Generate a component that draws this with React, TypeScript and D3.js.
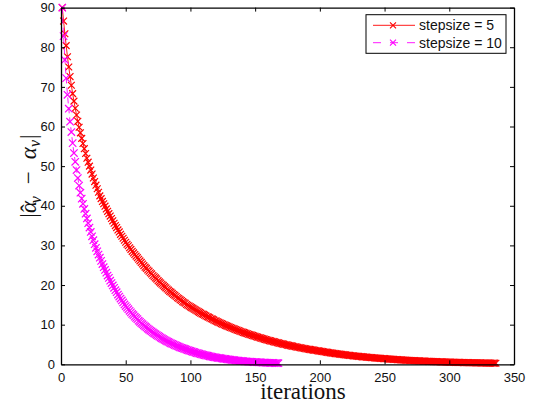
import React, { useEffect, useRef } from 'react'
import * as d3 from 'd3'

// |alpha_hat - alpha| per iteration (iteration = index + 1)
const step5 = [
  90.0, 86.6, 83.4, 80.4, 77.6, 75.0, 72.6, 70.4, 68.3, 66.4,
  64.6, 62.9, 61.3, 59.8, 58.4, 57.0, 55.7, 54.4, 53.2, 52.0,
  51.0, 50.0, 49.0, 48.0, 47.0, 46.1, 45.2, 44.3, 43.4, 42.5,
  41.8, 41.1, 40.5, 39.9, 39.2, 38.6, 38.0, 37.4, 36.8, 36.2,
  35.6, 35.0, 34.5, 33.9, 33.4, 32.8, 32.3, 31.8, 31.3, 30.8,
  30.3, 29.9, 29.4, 29.0, 28.5, 28.1, 27.7, 27.3, 26.9, 26.5,
  26.1, 25.7, 25.3, 24.9, 24.5, 24.2, 23.8, 23.5, 23.1, 22.8,
  22.4, 22.1, 21.8, 21.5, 21.1, 20.8, 20.5, 20.2, 19.9, 19.6,
  19.3, 19.0, 18.7, 18.4, 18.2, 17.9, 17.6, 17.4, 17.1, 16.8,
  16.6, 16.3, 16.1, 15.8, 15.6, 15.4, 15.1, 14.9, 14.7, 14.5,
  14.3, 14.1, 13.9, 13.7, 13.5, 13.3, 13.1, 12.9, 12.7, 12.6,
  12.4, 12.2, 12.0, 11.9, 11.7, 11.5, 11.4, 11.2, 11.0, 10.9,
  10.72, 10.57, 10.42, 10.27, 10.13, 9.98, 9.84, 9.70, 9.56, 9.42,
  9.29, 9.16, 9.02, 8.90, 8.77, 8.64, 8.52, 8.40, 8.28, 8.16,
  8.04, 7.93, 7.82, 7.70, 7.59, 7.49, 7.38, 7.28, 7.17, 7.07,
  6.96, 6.86, 6.76, 6.66, 6.56, 6.46, 6.36, 6.27, 6.17, 6.08,
  5.99, 5.90, 5.81, 5.73, 5.64, 5.56, 5.47, 5.39, 5.31, 5.23,
  5.15, 5.08, 5.00, 4.93, 4.85, 4.78, 4.71, 4.64, 4.57, 4.50,
  4.43, 4.37, 4.30, 4.24, 4.17, 4.11, 4.05, 3.99, 3.93, 3.87,
  3.81, 3.76, 3.70, 3.65, 3.59, 3.54, 3.48, 3.43, 3.38, 3.33,
  3.27, 3.22, 3.16, 3.11, 3.06, 3.01, 2.95, 2.90, 2.85, 2.81,
  2.76, 2.71, 2.67, 2.62, 2.58, 2.53, 2.49, 2.45, 2.40, 2.36,
  2.32, 2.28, 2.24, 2.21, 2.17, 2.13, 2.10, 2.06, 2.03, 1.99,
  1.96, 1.92, 1.89, 1.86, 1.83, 1.80, 1.77, 1.74, 1.71, 1.68,
  1.65, 1.62, 1.59, 1.57, 1.54, 1.52, 1.49, 1.47, 1.44, 1.42,
  1.39, 1.37, 1.34, 1.32, 1.29, 1.27, 1.24, 1.22, 1.20, 1.17,
  1.15, 1.13, 1.11, 1.09, 1.07, 1.05, 1.03, 1.01, 0.99, 0.97,
  0.95, 0.93, 0.92, 0.90, 0.88, 0.87, 0.85, 0.83, 0.82, 0.80,
  0.79, 0.77, 0.76, 0.74, 0.73, 0.72, 0.70, 0.69, 0.68, 0.66,
  0.65, 0.64, 0.63, 0.61, 0.60, 0.59, 0.58, 0.57, 0.56, 0.55,
  0.54, 0.53, 0.52, 0.51, 0.50, 0.49, 0.48, 0.47, 0.46, 0.45,
  0.44, 0.44, 0.43, 0.42, 0.41, 0.40, 0.40, 0.39, 0.38, 0.37,
  0.37, 0.36, 0.35, 0.35, 0.34, 0.33, 0.33, 0.32, 0.31, 0.31,
  0.30, 0.30, 0.29, 0.29, 0.28, 0.27,
]

const step10 = [
  90.0, 82.8, 76.8, 72.2, 68.0, 64.5, 61.2, 58.6, 55.8, 53.3,
  51.1, 49.0, 47.0, 45.1, 43.3, 41.8, 40.5, 39.2, 38.0, 36.8,
  35.6, 34.5, 33.4, 32.3, 31.3, 30.3, 29.4, 28.5, 27.7, 26.9,
  26.1, 25.3, 24.5, 23.8, 23.1, 22.4, 21.8, 21.1, 20.5, 19.9,
  19.3, 18.7, 18.2, 17.6, 17.1, 16.6, 16.1, 15.6, 15.1, 14.7,
  14.3, 13.9, 13.5, 13.1, 12.7, 12.4, 12.0, 11.7, 11.4, 11.0,
  10.72, 10.42, 10.13, 9.84, 9.56, 9.29, 9.02, 8.77, 8.52, 8.28,
  8.04, 7.82, 7.59, 7.38, 7.17, 6.96, 6.76, 6.56, 6.36, 6.17,
  5.99, 5.81, 5.64, 5.47, 5.31, 5.15, 5.00, 4.85, 4.71, 4.57,
  4.43, 4.30, 4.17, 4.05, 3.93, 3.81, 3.70, 3.59, 3.48, 3.38,
  3.27, 3.16, 3.06, 2.95, 2.85, 2.76, 2.67, 2.58, 2.49, 2.40,
  2.32, 2.24, 2.17, 2.10, 2.03, 1.96, 1.89, 1.83, 1.77, 1.71,
  1.65, 1.59, 1.54, 1.49, 1.44, 1.39, 1.34, 1.29, 1.24, 1.20,
  1.15, 1.11, 1.07, 1.03, 0.99, 0.95, 0.92, 0.88, 0.85, 0.82,
  0.79, 0.76, 0.73, 0.70, 0.68, 0.65, 0.63, 0.60, 0.58, 0.56,
  0.54, 0.52, 0.50, 0.48, 0.46, 0.44, 0.43, 0.41, 0.40, 0.38,
  0.37, 0.35, 0.34, 0.33, 0.31, 0.30, 0.29, 0.28,
]

const xTicks = [0, 50, 100, 150, 200, 250, 300, 350]
const yTicks = [0, 10, 20, 30, 40, 50, 60, 70, 80, 90]
const seriesNames = ['stepsize = 5', 'stepsize = 10']
const seriesColors = ['#ff0000', '#ff00ff']

const App = () => {
  const svgRef = useRef(null)
  const width = 536
  const height = 405
  const plot = { left: 61, right: 514, top: 7.6, bottom: 364.3 }

  useEffect(() => {
    const svg = d3.select(svgRef.current)
    svg.selectAll('*').remove()

    const x = d3.scaleLinear().domain([0, 350]).range([plot.left, plot.right])
    const y = d3.scaleLinear().domain([0, 90]).range([plot.bottom, plot.top])

    const font = 'Liberation Sans, Arial, Helvetica, sans-serif'
    const serif = 'Liberation Serif, Times New Roman, serif'
    const xMark = (s) => `M${-s},${-s}L${s},${s}M${-s},${s}L${s},${-s}`

    svg.append('rect').attr('width', width).attr('height', height).attr('fill', 'white')

    // series
    const line = d3
      .line()
      .x((d) => x(d[0]))
      .y((d) => y(d[1]))

    const series = [step5, step10].map((vals) => vals.map((v, i) => [i + 1, v]))

    series.forEach((pts, k) => {
      const g = svg.append('g')
      g.append('path')
        .attr('d', line(pts))
        .attr('fill', 'none')
        .attr('stroke', seriesColors[k])
        .attr('stroke-width', 0.9)
        .attr('stroke-dasharray', k === 1 ? '6,4' : null)
      g.selectAll('path.m')
        .data(pts)
        .join('path')
        .attr('class', 'm')
        .attr('d', xMark(k === 1 ? 3.7 : 3.4))
        .attr('transform', (d) => `translate(${x(d[0])},${y(d[1])})`)
        .attr('stroke', seriesColors[k])
        .attr('stroke-width', 1.2)
        .attr('fill', 'none')
    })

    // axes
    const styleAxis = (a) => {
      a.selectAll('path.domain').attr('stroke', '#000').attr('stroke-width', 1.3)
      a.selectAll('.tick line').attr('stroke', '#000').attr('stroke-width', 1)
      a.selectAll('.tick text').attr('fill', '#111').style('font-family', font).style('font-size', '13px')
    }

    const ax = svg
      .append('g')
      .attr('transform', `translate(0,${plot.bottom})`)
      .call(d3.axisBottom(x).tickValues(xTicks).tickSizeInner(-4).tickSizeOuter(0).tickPadding(8))
    styleAxis(ax)
    const axTop = svg
      .append('g')
      .attr('transform', `translate(0,${plot.top})`)
      .call(d3.axisTop(x).tickValues(xTicks).tickSizeInner(-4).tickSizeOuter(0).tickFormat(() => ''))
    styleAxis(axTop)
    const ay = svg
      .append('g')
      .attr('transform', `translate(${plot.left},0)`)
      .call(d3.axisLeft(y).tickValues(yTicks).tickSizeInner(-4).tickSizeOuter(0).tickPadding(6))
    styleAxis(ay)
    const ayRight = svg
      .append('g')
      .attr('transform', `translate(${plot.right},0)`)
      .call(d3.axisRight(y).tickValues(yTicks).tickSizeInner(-4).tickSizeOuter(0).tickFormat(() => ''))
    styleAxis(ayRight)

    // x label
    svg
      .append('text')
      .text('iterations')
      .attr('x', 303)
      .attr('y', 399)
      .attr('text-anchor', 'middle')
      .style('font-family', serif)
      .style('font-size', '23px')
      .attr('fill', '#111')

    // y label |alpha_hat_v - alpha_v|
    const yl = svg
      .append('text')
      .attr('transform', 'translate(36,176) rotate(-90)')
      .attr('text-anchor', 'middle')
      .style('font-family', serif)
      .style('font-size', '23px')
      .attr('fill', '#111')
    yl.append('tspan').text('|')
    yl.append('tspan').text('\u03B1').style('font-style', 'italic')
    yl.append('tspan').text('\u02C6').attr('dx', -11).attr('dy', 1)
    yl.append('tspan').text('v').style('font-style', 'italic').style('font-size', '16px').attr('dx', 1).attr('dy', 4)
    yl.append('tspan').text('\u2212').attr('dy', -5).attr('dx', 12)
    yl.append('tspan').text('\u03B1').style('font-style', 'italic').attr('dx', 12)
    yl.append('tspan').text('v').style('font-style', 'italic').style('font-size', '16px').attr('dy', 4)
    yl.append('tspan').text('|').attr('dy', -4).attr('dx', 1)

    // legend
    const lg = svg.append('g')
    lg.append('rect')
      .attr('x', 366)
      .attr('y', 14.7)
      .attr('width', 140)
      .attr('height', 38.6)
      .attr('fill', 'white')
      .attr('stroke', '#000')
      .attr('stroke-width', 1)
    seriesNames.forEach((name, k) => {
      const cy = 25.3 + k * 17.4
      lg.append('line')
        .attr('x1', 373)
        .attr('x2', 415)
        .attr('y1', cy)
        .attr('y2', cy)
        .attr('stroke', seriesColors[k])
        .attr('stroke-width', 0.9)
        .attr('stroke-dasharray', k === 1 ? '8,9' : null)
      lg.append('path')
        .attr('d', xMark(3))
        .attr('transform', `translate(393,${cy})`)
        .attr('stroke', seriesColors[k])
        .attr('stroke-width', 1.1)
      lg.append('text')
        .text(name)
        .attr('x', 419)
        .attr('y', cy + 5)
        .style('font-family', font)
        .style('font-size', '14px')
        .attr('fill', '#111')
    })
  }, [])

  return (
    <svg
      ref={svgRef}
      width={width}
      height={height}
      viewBox={`0 0 ${width} ${height}`}
      style={{ position: 'absolute', left: 0, top: 0, display: 'block' }}
    ></svg>
  )
}

export default App
